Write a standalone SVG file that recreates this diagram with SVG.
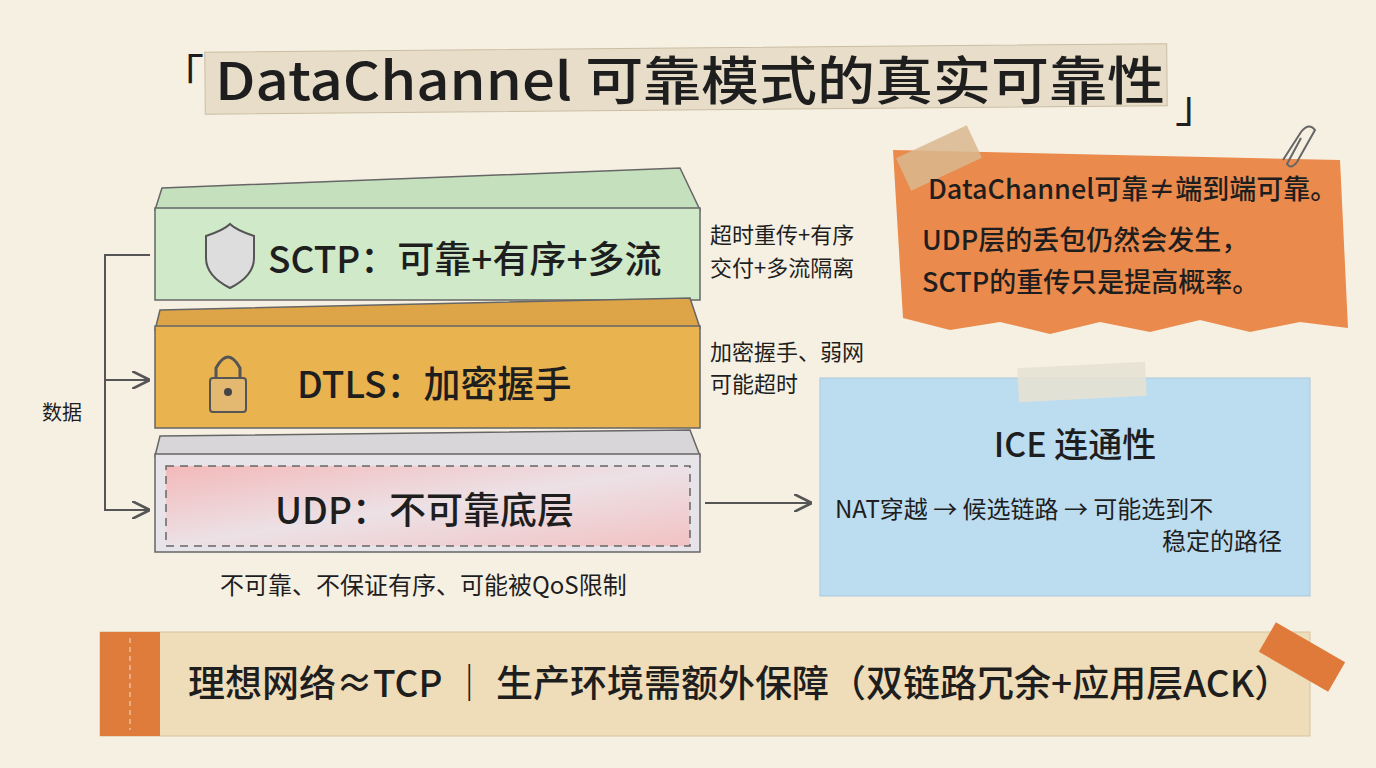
<svg xmlns="http://www.w3.org/2000/svg" width="1376" height="768" viewBox="0 0 1376 768">
<style>
text{font-family:"Noto Sans CJK SC","Noto Sans",sans-serif;fill:#1e1e1e}
.b{font-weight:bold}
.m{font-weight:500}
.ln{fill:none;stroke:#555;stroke-width:2}
.edge{stroke:#666;stroke-width:1.5}
</style>
<defs>
<marker id="ar" viewBox="0 0 10 10" refX="9" refY="5" markerWidth="9" markerHeight="9" orient="auto"><path d="M0,0L10,5L0,10" fill="none" stroke="#555" stroke-width="1.5"/></marker>
<linearGradient id="pk" x1="0" y1="0" x2="1" y2="1"><stop offset="0" stop-color="#f3b9b9"/><stop offset="0.5" stop-color="#ece1e6"/><stop offset="1" stop-color="#f2c2c2"/></linearGradient>
</defs>
<rect width="1376" height="768" fill="#f6f0e3"/>
<g id="title">
<text x="160" y="92" font-size="44" fill="#333">「</text>
<rect x="205" y="48" width="962" height="62" fill="#e8ddc8" stroke="#cbbda3" transform="rotate(-0.5 686 79)"/>
<text x="690" y="100" font-size="52" class="m" text-anchor="middle" fill="#3a352e" textLength="950" lengthAdjust="spacingAndGlyphs">DataChannel 可靠模式的真实可靠性</text>
<text x="1175" y="122" font-size="44" fill="#333">」</text>
</g>
<g id="connectors">
<path class="ln" d="M150,255 L105,255 L105,510 L148,510" marker-end="url(#ar)"/>
<path class="ln" d="M105,380 L148,380" marker-end="url(#ar)"/>
<path class="ln" d="M705,503 L810,503" marker-end="url(#ar)"/>
</g>
<text x="42" y="420" font-size="20">数据</text>
<g id="sctp">
<polygon points="162,188 680,168 700,210 155,210" fill="#c5e0bd" class="edge"/>
<rect x="155" y="208" width="545" height="92" fill="#cfe9c9" class="edge"/>
<path d="M206,236 q18,-6 24,-12 q6,6 24,12 v22 q0,18 -24,30 q-24,-12 -24,-30z" fill="#ddd" stroke="#555" stroke-width="2"/>
<text x="268" y="273" font-size="37" class="m">SCTP：可靠+有序+多流</text>
</g>
<g id="dtls">
<polygon points="160,310 690,298 700,328 155,330" fill="#dda548" class="edge"/>
<rect x="155" y="326" width="545" height="102" fill="#e9b350" class="edge"/>
<rect x="210" y="378" width="36" height="34" rx="3" fill="#e3b870" stroke="#555" stroke-width="2"/>
<path d="M216,378 v-10 q12,-22 24,0 v10" fill="none" stroke="#555" stroke-width="3"/>
<circle cx="228" cy="392" r="4" fill="#444"/>
<text x="297" y="398" font-size="37" class="m">DTLS：加密握手</text>
</g>
<g id="udp">
<polygon points="160,436 690,430 700,456 155,456" fill="#d8d6d9" class="edge"/>
<rect x="155" y="454" width="545" height="98" fill="#e6e4e8" class="edge"/>
<rect x="166" y="466" width="524" height="80" fill="url(#pk)" stroke="#666" stroke-width="1.5" stroke-dasharray="8 6"/>
<text x="275" y="524" font-size="37" class="m">UDP：不可靠底层</text>
</g>
<text x="220" y="594" font-size="24">不可靠、不保证有序、可能被QoS限制</text>
<text x="710" y="243" font-size="22">超时重传+有序</text>
<text x="710" y="276" font-size="22">交付+多流隔离</text>
<text x="710" y="360" font-size="22">加密握手、弱网</text>
<text x="710" y="392" font-size="22">可能超时</text>
<g id="note">
<polygon points="893,150 1340,160 1348,328 1300,322 1250,332 1200,320 1150,332 1100,322 1050,334 1000,322 950,330 903,318" fill="#ea8a4c"/>
<rect x="900" y="140" width="78" height="36" fill="#d9b98f" opacity="0.85" transform="rotate(-25 939 158)"/>
<path d="M1283,160 l18,-28 q8,-10 14,-2 l-18,32 q-6,8 -10,2 l14,-26" fill="none" stroke="#666" stroke-width="2"/>
<text x="928" y="199" font-size="27" class="m">DataChannel可靠≠端到端可靠。</text>
<text x="922" y="250" font-size="27" class="m">UDP层的丢包仍然会发生，</text>
<text x="922" y="292" font-size="27" class="m">SCTP的重传只是提高概率。</text>
</g>
<g id="ice">
<rect x="820" y="378" width="490" height="218" fill="#bcdcf0" stroke="#aac8dc"/>
<rect x="1018" y="365" width="128" height="34" fill="#e6e1d3" opacity="0.9" transform="rotate(-3 1082 382)"/>
<text x="1075" y="457" font-size="34" text-anchor="middle" class="m">ICE 连通性</text>
<text x="835" y="518" font-size="24">NAT穿越 → 候选链路 → 可能选到不</text>
<text x="1162" y="550" font-size="24">稳定的路径</text>
</g>
<g id="banner">
<rect x="100" y="632" width="1210" height="104" fill="#efdcb8" stroke="#d8c49e"/>
<rect x="100" y="632" width="60" height="104" fill="#df7b3b"/>
<line x1="130" y1="638" x2="130" y2="730" stroke="#f5e0c8" stroke-dasharray="5 4"/>
<rect x="1262" y="640" width="80" height="34" fill="#e07a3a" transform="rotate(30 1302 657)"/>
<text x="188" y="697" font-size="37" class="m">理想网络≈TCP ｜ 生产环境需额外保障（双链路冗余+应用层ACK）</text>
</g>
</svg>
